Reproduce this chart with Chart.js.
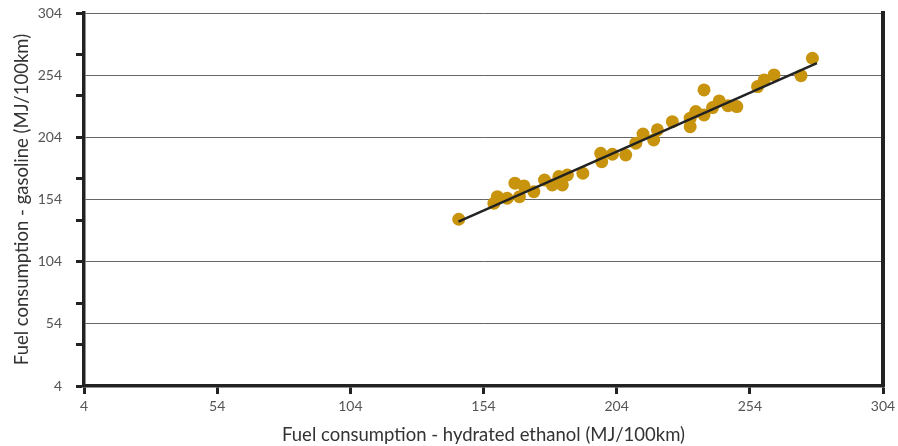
<!DOCTYPE html>
<html>
<head>
<meta charset="utf-8">
<script src="https://cdn.jsdelivr.net/npm/chart.js@4.4.1/dist/chart.umd.min.js"></script>
<style>
  html, body { margin: 0; padding: 0; background: #fff; }
  #wrap { width: 898px; height: 446px; }
</style>
</head>
<body>
<div id="wrap"><canvas id="fuelChart" width="898" height="446"></canvas></div>
<script>
// Ethanol vs gasoline consumption, one point per vehicle
const ethanolMJ = [144.7, 157.9, 159.2, 162.9, 165.8, 169.2, 167.5, 172.9, 176.9, 179.8,
                   182.3, 183.6, 185.5, 191.3, 198.0, 198.4, 202.4, 207.4, 211.2, 213.9,
                   217.9, 219.3, 224.9, 231.6, 231.6, 233.7, 236.8, 236.8, 240.0, 242.5,
                   245.8, 249.1, 256.9, 259.4, 263.1, 273.2, 277.5];
const gasolineMJ = [138.1, 151.0, 156.3, 155.0, 167.1, 164.9, 156.3, 160.3, 169.7, 165.7,
                    172.4, 165.7, 173.7, 175.1, 191.2, 184.4, 190.4, 189.8, 199.3, 206.7,
                    201.9, 210.0, 216.6, 219.4, 212.6, 224.7, 242.1, 222.0, 227.9, 233.3,
                    229.5, 228.7, 244.8, 250.2, 254.2, 253.6, 267.6];

// fitted trend line, ends
const trendX = [144.6, 279.2];
const trendY = [136.2, 263.6];

// axis ticks
const xTicks = [4, 54, 104, 154, 204, 254, 304];
const yLabelTicks = [4, 54, 104, 154, 204, 254, 304];
const yMarkTicks = [4, 37.33, 70.67, 104, 137.33, 170.67, 204, 237.33, 270.67, 304];

const GOLD = '#c8940e';
const INK = '#222222';
const FONT = "'Lato', 'Open Sans', sans-serif";

const isLabelTick = v => yLabelTicks.some(t => Math.abs(t - v) < 0.01);
const isMarkTick = v => yMarkTicks.some(t => Math.abs(t - v) < 0.01);

const points = ethanolMJ.map((x, i) => ({ x: x, y: gasolineMJ[i] }));
const trend = trendX.map((x, i) => ({ x: x, y: trendY[i] }));
const yAllTicks = [...new Set([...yLabelTicks, ...yMarkTicks])].sort((a, b) => a - b);

new Chart(document.getElementById('fuelChart'), {
    type: 'scatter',
    data: {
        datasets: [{
            type: 'line',
            data: trend,
            borderColor: INK,
            borderWidth: 2.5,
            pointRadius: 0,
            fill: false,
            order: 0
        }, {
            data: points,
            backgroundColor: GOLD,
            borderWidth: 0,
            pointRadius: 6.5,
            pointHoverRadius: 6.5,
            order: 1
        }]
    },
    options: {
        responsive: false,
        animation: false,
        layout: { padding: { top: 13, left: 0, right: 0, bottom: 0 } },
        plugins: { legend: { display: false }, tooltip: { enabled: false } },
        scales: {
            x: {
                type: 'linear',
                min: 4, max: 304,
                afterBuildTicks: s => { s.ticks = xTicks.map(v => ({ value: v })); },
                afterFit: s => { s.height = 60; s.paddingLeft = 0; s.paddingRight = 0; },
                ticks: { color: '#555', font: { family: FONT, size: 14 }, padding: 4 },
                grid: { drawOnChartArea: false, tickLength: 8, tickWidth: 3, tickColor: INK },
                border: { display: true, width: 3.5, color: INK },
                title: {
                    display: true,
                    text: 'Fuel consumption - hydrated ethanol (MJ/100km)',
                    color: '#333',
                    font: { family: FONT, size: 18.5 },
                    padding: { top: 0, bottom: 0 }
                }
            },
            y: {
                type: 'linear',
                min: 4, max: 304,
                afterBuildTicks: s => { s.ticks = yAllTicks.map(v => ({ value: v })); },
                afterFit: s => { s.width = 84; s.paddingTop = 0; s.paddingBottom = 0; },
                ticks: {
                    color: '#555',
                    font: { family: FONT, size: 14 },
                    padding: 14,
                    callback: v => isLabelTick(v) ? String(v) : ''
                },
                grid: {
                    color: c => isLabelTick(c.tick.value) ? '#666' : 'rgba(0,0,0,0)',
                    lineWidth: 1,
                    tickLength: 8,
                    tickWidth: 3,
                    tickColor: c => isMarkTick(c.tick.value) ? INK : 'rgba(0,0,0,0)'
                },
                border: { display: true, width: 3.5, color: INK },
                title: {
                    display: true,
                    text: 'Fuel consumption - gasoline (MJ/100km)',
                    color: '#333',
                    font: { family: FONT, size: 18.5 },
                    padding: { top: 11, bottom: 0 }
                }
            },
            yRight: {
                type: 'linear',
                position: 'right',
                min: 4, max: 304,
                afterFit: s => { s.width = 15; s.paddingTop = 0; s.paddingBottom = 0; },
                ticks: { display: false },
                grid: { drawOnChartArea: false, drawTicks: false },
                border: { display: true, width: 4, color: INK }
            }
        }
    }
});
</script>
</body>
</html>
